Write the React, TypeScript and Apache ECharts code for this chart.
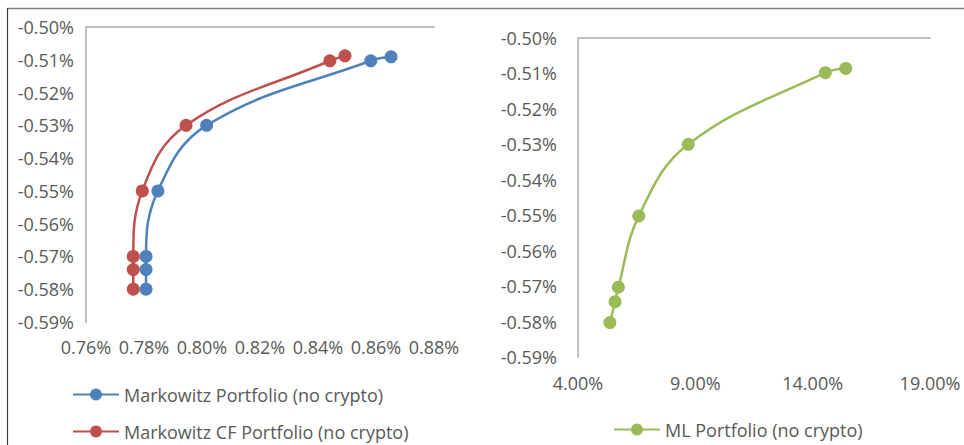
import React, { useEffect, useRef } from "react";
import * as echarts from "echarts";

// Left chart: x = risk/return measure (%), y = (%)
const markowitzX = [0.7807, 0.7807, 0.7807, 0.7848, 0.8016, 0.8582, 0.8652];
const markowitzY = [-0.58, -0.574, -0.57, -0.55, -0.53, -0.5103, -0.5091];
const markowitzCFX = [0.7763, 0.7763, 0.7763, 0.7794, 0.7945, 0.8441, 0.8493];
const markowitzCFY = [-0.58, -0.574, -0.57, -0.55, -0.53, -0.5103, -0.5088];
// Right chart
const mlX = [5.36, 5.58, 5.72, 6.59, 8.7, 14.54, 15.41];
const mlY = [-0.5803, -0.5744, -0.5703, -0.5502, -0.53, -0.5098, -0.5086];

const seriesNames = [
  "Markowitz Portfolio (no crypto)",
  "Markowitz CF Portfolio (no crypto)",
  "ML Portfolio (no crypto)",
];
const colors = ["#4F81BD", "#C0504D", "#9BBB59"];

const pairs = (xs: number[], ys: number[]) => xs.map((x, i) => [x, ys[i]]);

export default function App() {
  const ref = useRef<HTMLDivElement>(null);
  useEffect(() => {
    if (!ref.current) return;
    const chart = echarts.init(ref.current, null, { renderer: "svg" });
    const font = "'Open Sans', sans-serif";
    const textColor = "#595959";
    const axisLineStyle = { color: "#BFBFBF", width: 2 };
    const yAxisBase = (gridIndex: number, margin: number) => ({
      type: "value",
      gridIndex,
      min: -0.59,
      max: -0.5,
      interval: 0.01,
      axisLine: { show: true, lineStyle: axisLineStyle },
      axisTick: { show: false },
      splitLine: { show: false },
      axisLabel: {
        margin,
        color: textColor,
        fontFamily: font,
        fontSize: 18,
        formatter: (v: number) => v.toFixed(2) + "%",
      },
    });
    const lineSeries = (
      name: string,
      data: number[][],
      color: string,
      axisIndex: number
    ) => ({
      name,
      type: "line",
      xAxisIndex: axisIndex,
      yAxisIndex: axisIndex,
      data,
      smooth: 0.4,
      symbol: "circle",
      symbolSize: 13,
      showSymbol: true,
      lineStyle: { color, width: 2.5 },
      itemStyle: { color },
    });
    const legendItem = (name: string, left: number, top: number) => ({
      data: [name],
      orient: "horizontal",
      left,
      top,
      padding: 0,
      itemWidth: 46,
      itemHeight: 15,
      itemGap: 4,
      textStyle: {
        color: textColor,
        fontFamily: font,
        fontSize: 18,
        lineHeight: 21,
      },
    });
    chart.setOption({
      animation: false,
      backgroundColor: "#ffffff",
      grid: [
        { left: 86, top: 27, width: 348, height: 295 },
        { left: 578, top: 38, width: 352, height: 319 },
      ],
      xAxis: [
        {
          type: "value",
          gridIndex: 0,
          position: "bottom",
          min: 0.76,
          max: 0.88,
          interval: 0.02,
          axisLine: { show: false },
          axisTick: { show: false },
          splitLine: { show: false },
          axisLabel: {
            margin: 16,
            color: textColor,
            fontFamily: font,
            fontSize: 18,
            formatter: (v: number) => v.toFixed(2) + "%",
          },
        },
        {
          type: "value",
          gridIndex: 1,
          position: "bottom",
          min: 4,
          max: 19,
          interval: 5,
          axisLine: { show: false },
          axisTick: { show: false },
          splitLine: { show: false },
          axisLabel: {
            margin: 17,
            color: textColor,
            fontFamily: font,
            fontSize: 18,
            formatter: (v: number) => v.toFixed(2) + "%",
          },
        },
        {
          type: "value",
          gridIndex: 0,
          position: "top",
          min: 0.76,
          max: 0.88,
          axisLine: { show: true, onZero: false, lineStyle: axisLineStyle },
          axisTick: { show: false },
          axisLabel: { show: false },
          splitLine: { show: false },
        },
        {
          type: "value",
          gridIndex: 1,
          position: "top",
          min: 4,
          max: 19,
          axisLine: { show: true, onZero: false, lineStyle: axisLineStyle },
          axisTick: { show: false },
          axisLabel: { show: false },
          splitLine: { show: false },
        },
      ],
      yAxis: [yAxisBase(0, 12), yAxisBase(1, 21)],
      legend: [
        legendItem(seriesNames[0], 72, 384),
        legendItem(seriesNames[1], 72, 421),
        legendItem(seriesNames[2], 613, 419),
      ],
      series: [
        lineSeries(seriesNames[0], pairs(markowitzX, markowitzY), colors[0], 0),
        lineSeries(seriesNames[1], pairs(markowitzCFX, markowitzCFY), colors[1], 0),
        lineSeries(seriesNames[2], pairs(mlX, mlY), colors[2], 1),
      ],
      graphic: [
        {
          type: "line",
          shape: { x1: 7, y1: 8.5, x2: 964, y2: 8.5 },
          style: { stroke: "#7F7F7F", lineWidth: 1.5 },
        },
        {
          type: "line",
          shape: { x1: 7.5, y1: 8, x2: 7.5, y2: 445 },
          style: { stroke: "#404040", lineWidth: 1.2 },
        },
      ],
    });
    return () => chart.dispose();
  }, []);
  return (
    <div
      ref={ref}
      style={{ position: "fixed", left: 0, top: 0, width: 964, height: 445, background: "#fff" }}
    />
  );
}
